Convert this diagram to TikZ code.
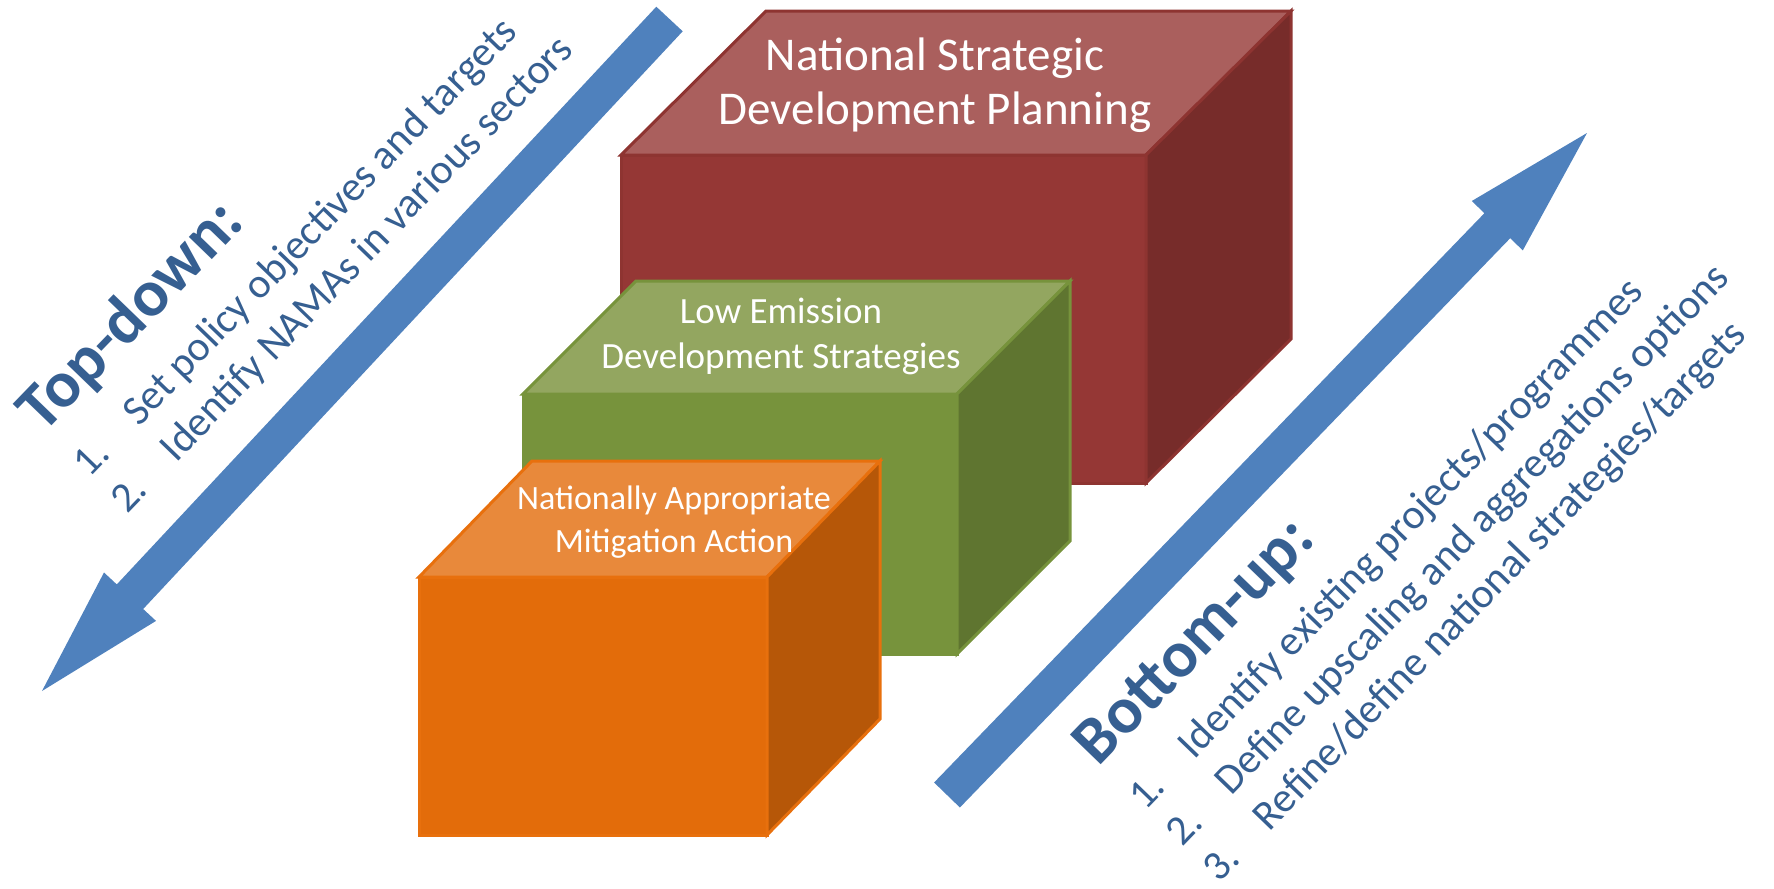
\documentclass[tikz,border=0pt]{standalone}
\usepackage{fontspec}
\setmainfont{Carlito}
\usepackage{tikz}
\definecolor{nsdpfront}{HTML}{953735}
\definecolor{nsdptop}{HTML}{AA5F5D}
\definecolor{nsdpside}{HTML}{772C2A}
\definecolor{nsdpedge}{HTML}{8E3431}
\definecolor{ledsfront}{HTML}{77933C}
\definecolor{ledstop}{HTML}{93A660}
\definecolor{ledsside}{HTML}{5F7530}
\definecolor{ledsedge}{HTML}{77933C}
\definecolor{namafront}{HTML}{E36C0A}
\definecolor{namatop}{HTML}{E8893B}
\definecolor{namaside}{HTML}{B65708}
\definecolor{namaedge}{HTML}{E8700D}
\definecolor{arrowblue}{HTML}{4F81BD}
\definecolor{textblue}{HTML}{365F91}
\tikzset{
	face/.style={line width=1.5pt, line join=miter},
	flow/.style={fill=arrowblue},
	boxlabel/.style={text=white, align=center},
	steps/.style={text=textblue, align=left, rotate=46,
		font=\fontsize{21}{26}\selectfont},
}
\newcommand{\headfont}{\fontsize{33}{38}\selectfont\bfseries}
\newcommand{\stepnum}[1]{\makebox[1.7em][l]{#1}}

\begin{document}
\begin{tikzpicture}[x=0.5pt, y=-0.5pt]
	\useasboundingbox (0,0) rectangle (1774,889);
	% arrows
	\fill[flow] (682.7,31.3) -- (656.3,6.7) -- (116.8,584.4) -- (104.0,572.5)
		-- (42,691) -- (156.0,620.9) -- (143.2,609.0) -- cycle;
	\fill[flow] (959.9,807.5) -- (934.1,782.5) -- (1484.4,213.2) -- (1471.8,201.0)
		-- (1587,133) -- (1522.8,250.4) -- (1510.2,238.2) -- cycle;
	% national strategic development planning
\begin{scope}[shift={(621,155)}]
	\filldraw[face, fill=nsdpfront, draw=nsdpedge] (0,0) rectangle (525,328);
	\filldraw[face, fill=nsdptop, draw=nsdpedge] (0,0) -- (145,-144) -- (670,-144) -- (525,0) -- cycle;
	\filldraw[face, fill=nsdpside, draw=nsdpedge] (525,0) -- (670,-144) -- (670,184) -- (525,328) -- cycle;
\end{scope}
	% low emission development strategies
\begin{scope}[shift={(523,394)}]
	\filldraw[face, fill=ledsfront, draw=ledsedge] (0,0) rectangle (434,260);
	\filldraw[face, fill=ledstop, draw=ledsedge] (0,0) -- (113,-113) -- (547,-113) -- (434,0) -- cycle;
	\filldraw[face, fill=ledsside, draw=ledsedge] (434,0) -- (547,-113) -- (547,147) -- (434,260) -- cycle;
\end{scope}
	% nama
\begin{scope}[shift={(419,577)}]
	\filldraw[face, fill=namafront, draw=namaedge] (0,0) rectangle (348,258);
	\filldraw[face, fill=namatop, draw=namaedge] (0,0) -- (113,-116) -- (461,-116) -- (348,0) -- cycle;
	\filldraw[face, fill=namaside, draw=namaedge] (348,0) -- (461,-116) -- (461,142) -- (348,258) -- cycle;
\end{scope}
	\node[boxlabel, font=\fontsize{23.5}{27}\selectfont] (nsdp) at (935,85)
		{National Strategic\\Development Planning};
	\node[boxlabel, font=\fontsize{18.5}{22.5}\selectfont] (leds) at (781,336)
		{Low Emission\\Development Strategies};
	\node[boxlabel, font=\fontsize{17}{21.5}\selectfont] (nama) at (674,522)
		{Nationally Appropriate\\Mitigation Action};
	\node[steps] (topdown) at (295,229)
		{{\headfont Top-down:}\\[6pt]
		\stepnum{1.}Set policy objectives and targets\\
		\stepnum{2.}Identify NAMAs in various sectors};
	\node[steps] (bottomup) at (1421,529)
		{{\headfont Bottom-up:}\\[6pt]
		\stepnum{1.}Identify existing projects/programmes\\
		\stepnum{2.}Define upscaling and aggregations options\\
		\stepnum{3.}Refine/define national strategies/targets};
\end{tikzpicture}
\end{document}
